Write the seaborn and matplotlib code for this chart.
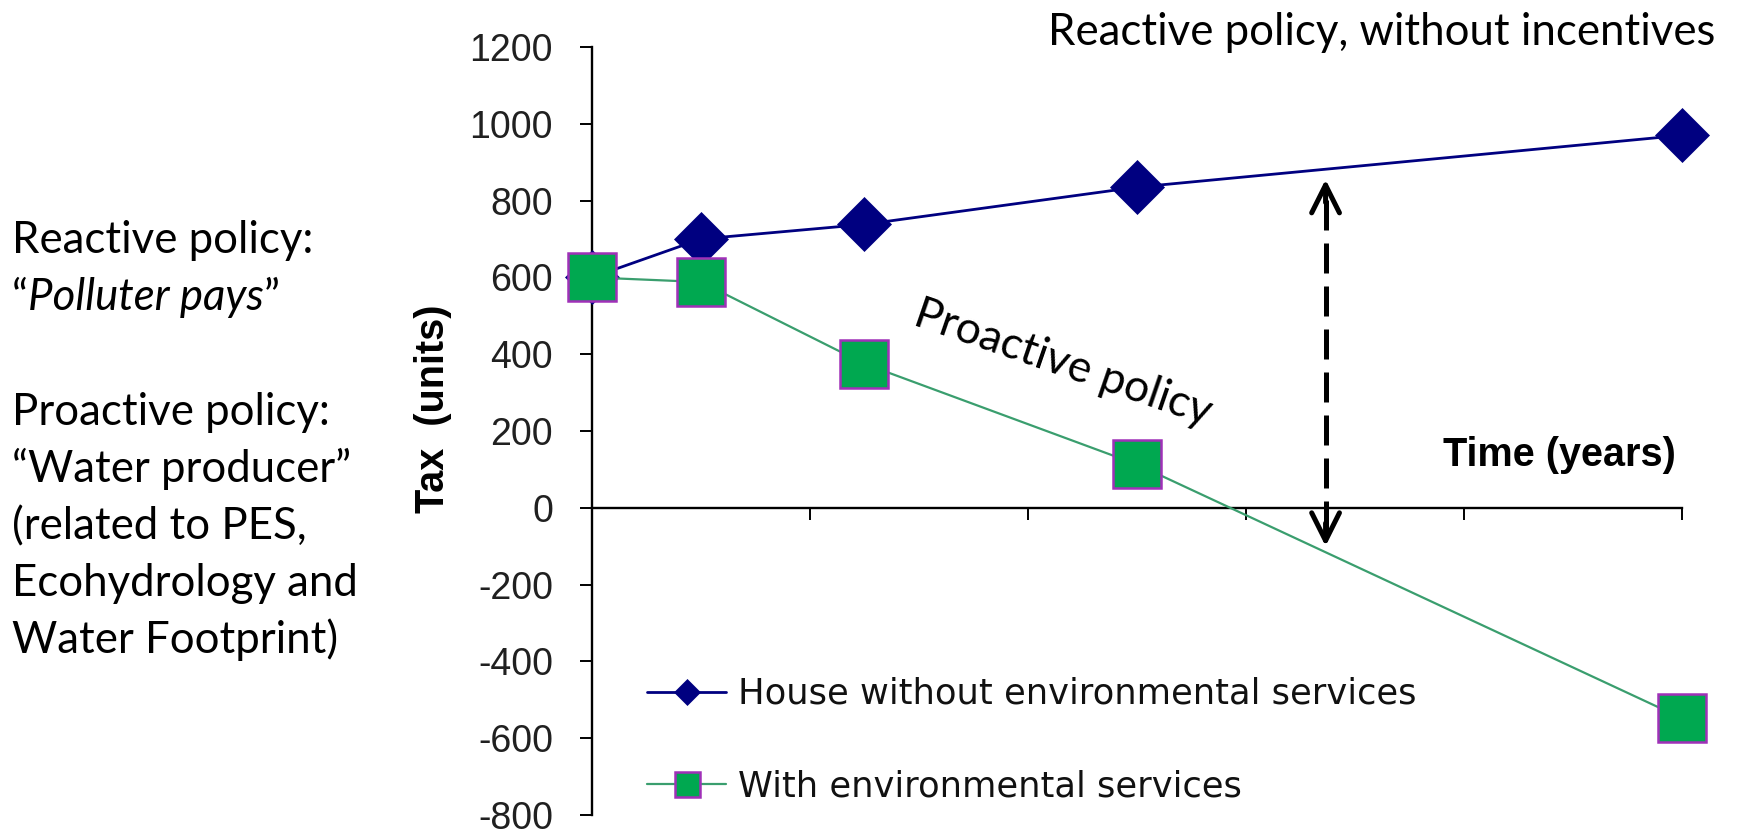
import matplotlib
matplotlib.use("Agg")
import matplotlib.pyplot as plt
import pandas as pd
import seaborn as sns

# Tax paid over time for the two scenarios
years = [0, 1, 2.5, 5, 10]
tax_without_services = [600, 700, 738, 835, 970]
tax_with_services = [600, 588, 375, 113, -548]
series_labels = ["House without environmental services", "With environmental services"]
y_ticks = [-800, -600, -400, -200, 0, 200, 400, 600, 800, 1000, 1200]
x_ticks = [0, 2, 4, 6, 8, 10]

# Double-headed marker showing the gap between the two policies
gap_year = 6.73
gap_low, gap_high = -100, 855

title_text = "Reactive policy, without incentives"
proactive_text = "Proactive policy"
x_label = "Time (years)"
y_label = "Tax  (units)"
side_lines = ["Reactive policy:", None, "Proactive policy:", "\u201cWater producer\u201d",
              "(related to PES,", "Ecohydrology and", "Water Footprint)"]
side_baselines = [253, 310, 425, 482, 539, 596, 653]

W, H = 1740, 836
sns.set_theme(style="white")
plt.rcParams["font.family"] = ["Liberation Sans", "DejaVu Sans"]
plt.rcParams["text.color"] = "black"

fig = plt.figure(figsize=(W / 100, H / 100), dpi=100)
fig.patch.set_facecolor("white")


def fx(px):
    return px / W


def fy(py):
    return 1 - py / H


AX_TOP, AX_BOTTOM = 47, 815
ax = fig.add_axes([fx(592), fy(AX_BOTTOM), (1682 - 592) / W, (AX_BOTTOM - AX_TOP) / H])
ax.set_facecolor("none")

df = pd.DataFrame({
    "year": years * 2,
    "tax": tax_without_services + tax_with_services,
    "series": [series_labels[0]] * len(years) + [series_labels[1]] * len(years),
})

navy = "#000080"
green_fill = "#00A850"
green_line = "#3A9E6E"
square_edge = "#A030B8"

sns.lineplot(data=df[df["series"] == series_labels[0]], x="year", y="tax", ax=ax,
             color=navy, linewidth=2.0, marker="D", markersize=27,
             markeredgewidth=0.5, markeredgecolor=navy,
             label=series_labels[0], clip_on=False, zorder=3, errorbar=None)
sns.lineplot(data=df[df["series"] == series_labels[1]], x="year", y="tax", ax=ax,
             color=green_line, linewidth=1.6, marker="s", markersize=35,
             markerfacecolor=green_fill, markeredgecolor=square_edge, markeredgewidth=1.8,
             label=series_labels[1], clip_on=False, zorder=4, errorbar=None)

ax.set_xlim(0, 10)
ax.set_ylim(-800, 1200)
ax.set_xticks(x_ticks)
ax.set_xticklabels([])
ax.set_yticks(y_ticks)
ax.set_yticklabels([str(v) for v in y_ticks])
ax.set_xlabel("")
ax.spines["top"].set_visible(False)
ax.spines["right"].set_visible(False)
ax.spines["bottom"].set_position(("data", 0))
for side in ("left", "bottom"):
    ax.spines[side].set_color("black")
    ax.spines[side].set_linewidth(1.7)
ax.tick_params(axis="y", left=True, direction="out", length=8.6, width=1.4, color="black",
               labelsize=27, labelcolor="#202020", pad=19.5)
ax.tick_params(axis="x", bottom=True, direction="out", length=8.6, width=1.4, color="black",
               labelbottom=False)

ax.set_ylabel(y_label, fontsize=28.5, fontweight="bold", color="black", va="center")
ax.yaxis.set_label_coords((433 - 592) / 1090, (AX_BOTTOM - 409) / (AX_BOTTOM - AX_TOP))

fig.text(fx(1676), fy(466), x_label, ha="right", va="baseline",
         fontsize=28.5, fontweight="bold")

# dashed gap marker with open arrow heads
ax.plot([gap_year, gap_year], [gap_low + 40, gap_high - 40], color="black",
        linewidth=3.6, linestyle=(0, (6, 2.6)), zorder=5, solid_capstyle="butt")
for tip, tail in ((gap_high, gap_high - 60), (gap_low, gap_low + 60)):
    ax.annotate("", xy=(gap_year, tip), xytext=(gap_year, tail),
                arrowprops=dict(arrowstyle="->,head_length=1.0,head_width=0.5",
                                color="black", lw=3.6, mutation_scale=20,
                                shrinkA=0, shrinkB=0), zorder=5)

# legend with compact markers
leg = ax.legend(loc="center left", bbox_to_anchor=(fx(647), fy(740)),
                bbox_transform=fig.transFigure, frameon=False,
                prop={"family": "DejaVu Sans", "size": 25.4},
                handlelength=2.25, handletextpad=0.32, labelspacing=1.65,
                borderpad=0, borderaxespad=0)
for handle, ms in zip(leg.legend_handles, (13, 18)):
    handle.set_markersize(ms)
for txt in leg.get_texts():
    txt.set_color("#111111")

renderer = fig.canvas.get_renderer()


def fit_width(text_artist, target_px):
    w = text_artist.get_window_extent(renderer).width
    text_artist.set_fontsize(text_artist.get_fontsize() * target_px / w)
    return text_artist.get_fontsize()


title = fig.text(fx(1048), fy(45), title_text, family="Lato", fontsize=26,
                 ha="left", va="baseline")
fit_width(title, 665)

pro = fig.text(fx(1063), fy(363), proactive_text, family="Lato", fontsize=26,
               ha="center", va="center", rotation_mode="anchor")
fit_width(pro, 311)
pro.set_rotation(-19)

# explanatory notes on the left
probe = fig.text(0, 0, "Ecohydrology and", family="Lato", fontsize=26)
side_size = fit_width(probe, 345)
probe.remove()

for line, base in zip(side_lines, side_baselines):
    if line is None:
        q_open = fig.text(fx(12), fy(base), "\u201c", family="Lato", fontsize=side_size,
                          ha="left", va="baseline")
        italic = ax.annotate("Polluter pays", xy=(1, 0), xycoords=q_open,
                             ha="left", va="bottom", family="Lato", style="italic",
                             fontsize=side_size, annotation_clip=False)
        ax.annotate("\u201d", xy=(1, 0), xycoords=italic, ha="left", va="bottom",
                    family="Lato", fontsize=side_size, annotation_clip=False)
    else:
        fig.text(fx(12), fy(base), line, family="Lato", fontsize=side_size,
                 ha="left", va="baseline")

fig.savefig("out.png", dpi=100, facecolor="white")
